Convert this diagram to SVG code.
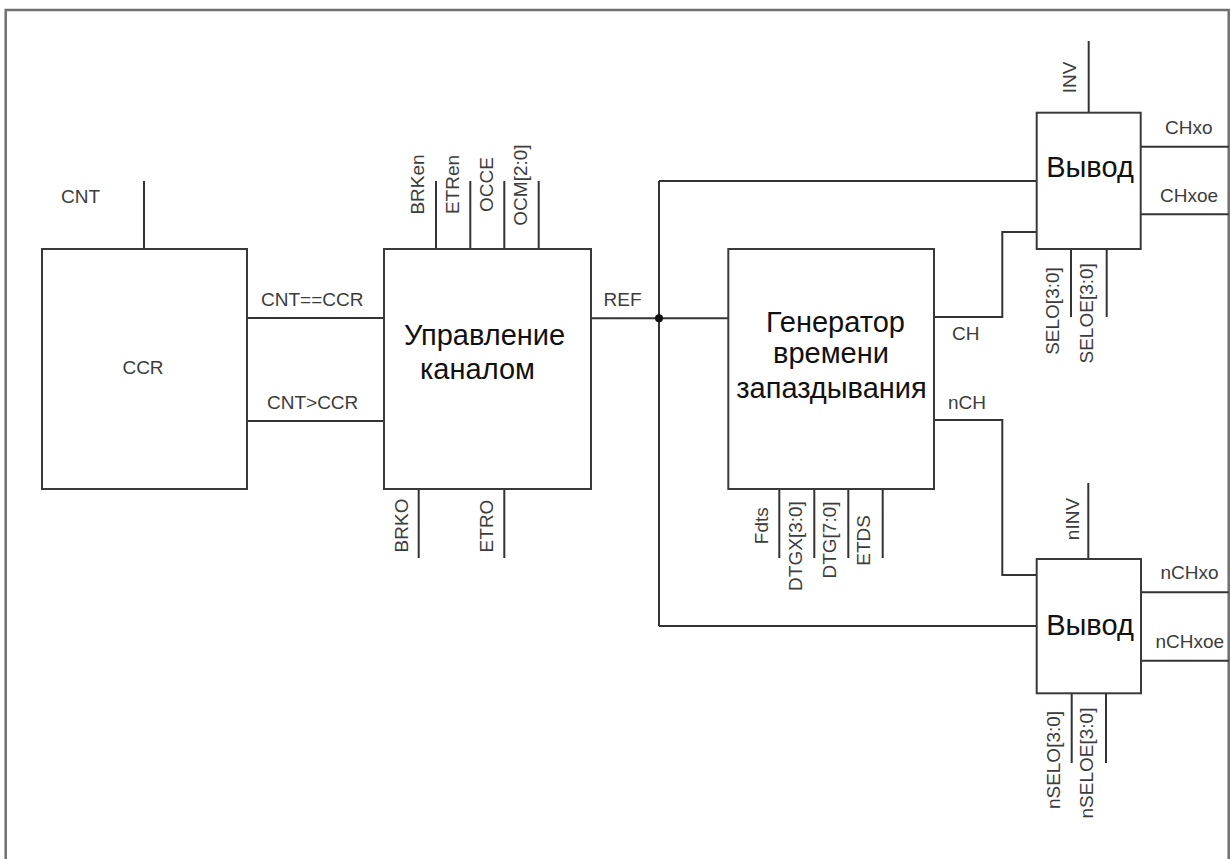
<svg xmlns="http://www.w3.org/2000/svg" width="1231" height="859" viewBox="0 0 1231 859">
<style>
.frame{fill:none;stroke:#707070;stroke-width:2.5}
.box{fill:#fff;stroke:#3a3a3a;stroke-width:2}
.w{fill:none;stroke:#333;stroke-width:2}
.lbl{font-family:"Liberation Sans",Arial,sans-serif;font-size:19px;fill:#3c3c3c}
.big{font-family:"Liberation Sans",Arial,sans-serif;font-size:29px;fill:#111;text-anchor:middle}
.r{text-anchor:middle}
</style>
<rect width="1231" height="859" fill="#fff"/>
<path class="frame" d="M5.7,860 V10 H1228.7 V860"/>
<g id="connectors">
  <path class="w" d="M144,181 V249"/>
  <path class="w" d="M247,318 H384 M247,421 H384"/>
  <path class="w" d="M436,181 V249 M470.3,181 V249 M504.3,181 V249 M538.7,181 V249"/>
  <path class="w" d="M418.7,489 V558 M504.3,489 V558"/>
  <path class="w" d="M591,318.3 H728.3"/>
  <path class="w" d="M659,181 V626 M659,181 H1036.7 M659,626 H1036.7"/>
  <circle cx="659" cy="318.3" r="4" fill="#111"/>
  <path class="w" d="M779.3,489 V558 M814.3,489 V558 M848.3,489 V558 M882.7,489 V558"/>
  <path class="w" d="M934,317 H1002.3 V232 H1036.7"/>
  <path class="w" d="M934,420 H1002.3 V575 H1036.7"/>
  <path class="w" d="M1088.7,41 V112.7"/>
  <path class="w" d="M1140.7,146.7 H1228.7 M1140.7,214.3 H1228.7"/>
  <path class="w" d="M1071,249 V317 M1106.7,249 V317"/>
  <path class="w" d="M1088.3,483 V559"/>
  <path class="w" d="M1141,592.3 H1228.7 M1141,660.7 H1228.7"/>
  <path class="w" d="M1071.7,693.3 V763 M1106,693.3 V763"/>
</g>
<g id="ccr">
  <rect class="box" x="42" y="249" width="205" height="240"/>
  <text class="lbl r" x="143" y="374">CCR</text>
  <text class="lbl" x="61" y="203">CNT</text>
  <text class="lbl" x="261" y="306">CNT==CCR</text>
  <text class="lbl" x="267" y="409">CNT&gt;CCR</text>
</g>
<g id="control">
  <rect class="box" x="384" y="249" width="207" height="240"/>
  <text class="big" x="484.5" y="345">Управление</text>
  <text class="big" x="477.5" y="379">каналом</text>
  <text class="lbl r" transform="translate(424,184.5) rotate(-90)">BRKen</text>
  <text class="lbl r" transform="translate(458.5,184.5) rotate(-90)">ETRen</text>
  <text class="lbl r" transform="translate(492.8,184.5) rotate(-90)">OCCE</text>
  <text class="lbl r" transform="translate(526.5,185) rotate(-90)">OCM[2:0]</text>
  <text class="lbl r" transform="translate(407.7,525.5) rotate(-90)">BRKO</text>
  <text class="lbl r" transform="translate(493.3,526) rotate(-90)">ETRO</text>
  <text class="lbl" x="603.5" y="305.7">REF</text>
</g>
<g id="generator">
  <rect class="box" x="728.3" y="249" width="205.7" height="240"/>
  <text class="big" x="835.5" y="331.7">Генератор</text>
  <text class="big" x="831" y="363">времени</text>
  <text class="big" x="831.5" y="398">запаздывания</text>
  <text class="lbl r" transform="translate(768,525.7) rotate(-90)">Fdts</text>
  <text class="lbl r" transform="translate(802,546) rotate(-90)">DTGX[3:0]</text>
  <text class="lbl r" transform="translate(835.5,540) rotate(-90)">DTG[7:0]</text>
  <text class="lbl r" transform="translate(870,540.4) rotate(-90)">ETDS</text>
  <text class="lbl" x="952" y="340">CH</text>
  <text class="lbl" x="948" y="409.3">nCH</text>
</g>
<g id="output1">
  <rect class="box" x="1036.7" y="112.7" width="104" height="136.3"/>
  <text class="big" x="1090" y="176.7">Вывод</text>
  <text class="lbl r" transform="translate(1076.3,77.5) rotate(-90)">INV</text>
  <text class="lbl r" transform="translate(1058.6,311) rotate(-90)">SELO[3:0]</text>
  <text class="lbl r" transform="translate(1092.6,313.3) rotate(-90)">SELOE[3:0]</text>
  <text class="lbl" x="1165" y="134">CHxo</text>
  <text class="lbl" x="1160" y="202.3">CHxoe</text>
</g>
<g id="output2">
  <rect class="box" x="1036.7" y="559" width="104.3" height="134.3"/>
  <text class="big" x="1090" y="635">Вывод</text>
  <text class="lbl r" transform="translate(1078.6,519) rotate(-90)">nINV</text>
  <text class="lbl r" transform="translate(1059.5,760) rotate(-90)">nSELO[3:0]</text>
  <text class="lbl r" transform="translate(1092.8,763) rotate(-90)">nSELOE[3:0]</text>
  <text class="lbl" x="1160.5" y="579.3">nCHxo</text>
  <text class="lbl" x="1155.5" y="647.7">nCHxoe</text>
</g>
</svg>
